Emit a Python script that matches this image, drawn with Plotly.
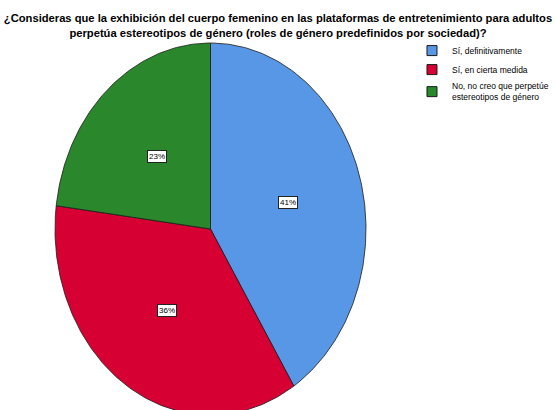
import math
import plotly.graph_objects as go

labels = ["Sí, definitivamente", "Sí, en cierta medida", "No, no creo que perpetúe<br>estereotipos de género"]
values = [41, 36, 23]
colors = ["#5896e6", "#d60032", "#2a872c"]
title = ("¿Consideras que la exhibición del cuerpo femenino en las plataformas de entretenimiento para adultos<br>"
         "perpetúa estereotipos de género (roles de género predefinidos por sociedad)?")

W, H = 556, 410
FONT = "Liberation Sans, Arial, sans-serif"

fig = go.Figure()

total = sum(values)
cum = 0.0
label_r = 0.52
for lab, v, col in zip(labels, values, colors):
    a0 = cum / total * 2 * math.pi
    a1 = (cum + v) / total * 2 * math.pi
    n = max(int(v * 4), 8)
    xs, ys = [0.0], [0.0]
    for i in range(n + 1):
        t = a0 + (a1 - a0) * i / n
        xs.append(math.sin(t))
        ys.append(math.cos(t))
    xs.append(0.0)
    ys.append(0.0)
    fig.add_trace(go.Scatter(
        x=xs, y=ys, mode="lines", fill="toself", fillcolor=col,
        line=dict(color="#1a1a1a", width=0.8), hoverinfo="text",
        text=f"{lab}: {v}%", showlegend=False,
    ))
    mid = (a0 + a1) / 2
    fig.add_annotation(x=label_r * math.sin(mid), y=label_r * math.cos(mid),
                       xref="x", yref="y", text=f"{round(v / total * 100)}%", showarrow=False,
                       font=dict(family=FONT, size=8, color="black"),
                       bgcolor="white", bordercolor="#222", borderwidth=1, borderpad=1)
    cum += v

# legend entries (square swatches)
for lab, col in zip(labels, colors):
    fig.add_trace(go.Scatter(
        x=[None], y=[None], mode="markers", name=lab,
        marker=dict(symbol="square", size=10, color=col, line=dict(color="#1a1a1a", width=1)),
        showlegend=True,
    ))

fig.update_layout(
    width=W, height=H,
    margin=dict(l=0, r=0, t=0, b=0),
    paper_bgcolor="white", plot_bgcolor="white",
    xaxis=dict(range=[-1.3537, 2.2219], visible=False, fixedrange=True),
    yaxis=dict(range=[-0.9731, 1.2312], visible=False, fixedrange=True),
    title=dict(text="<b>" + title + "</b>", x=0.5, xanchor="center", y=0.946, yanchor="top",
               font=dict(family=FONT, size=11.2, color="black")),
    legend=dict(x=0.741, y=0.912, xanchor="left", yanchor="top",
                font=dict(family=FONT, size=8.5, color="black"),
                itemwidth=30, tracegroupgap=0, bgcolor="rgba(0,0,0,0)"),
    showlegend=True,
)

fig.write_html("out.html", config={"displayModeBar": False},
               post_script="document.body.style.margin='0';document.body.style.overflow='hidden';")
